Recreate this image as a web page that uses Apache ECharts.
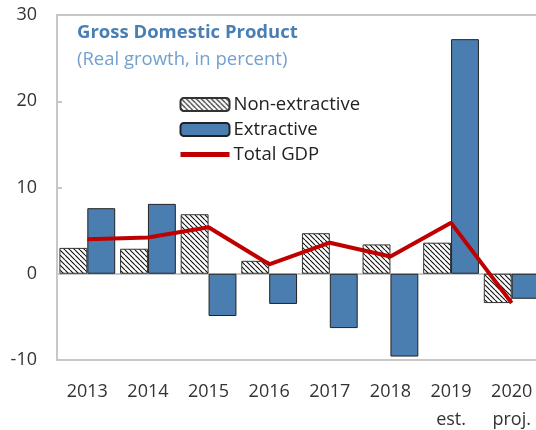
<!DOCTYPE html>
<html><head><meta charset="utf-8">
<script src="https://cdn.jsdelivr.net/npm/echarts@6/dist/echarts.min.js"></script>
<style>html,body{margin:0;padding:0;background:#fff}#c{width:536px;height:430px}</style>
</head><body><div id="c"></div>
<script>
const categories = ['2013','2014','2015','2016','2017','2018','2019\nest.','2020\nproj.'];
const nonExtractive = [3.0, 2.9, 6.9, 1.5, 4.7, 3.4, 3.6, -3.4];
const extractive = [7.6, 8.1, -4.9, -3.5, -6.3, -9.6, 27.2, -2.9];
const totalGDP = [4.0, 4.2, 5.4, 1.1, 3.6, 2.0, 5.9, -3.4];
const yTicks = [-10, 0, 10, 20, 30];

const pc = document.createElement('canvas');
pc.width = 5; pc.height = 5;
const g = pc.getContext('2d');
g.fillStyle = '#fff'; g.fillRect(0,0,5,5);
g.strokeStyle = '#111'; g.lineWidth = 1.1;
g.beginPath();
for (let o = -5; o <= 5; o += 5) { g.moveTo(o, 0); g.lineTo(o + 5, 5); }
g.stroke();

const font = '"Open Sans", "Noto Sans", sans-serif';
const chart = echarts.init(document.getElementById('c'));
chart.setOption({
  animation: false,
  textStyle: { fontFamily: font },
  title: {
    text: 'Gross Domestic Product',
    subtext: '(Real growth, in percent)',
    left: 72, top: 18, itemGap: 8,
    textStyle: { color: '#4a7fb5', fontSize: 18.5, fontWeight: 'bold', fontFamily: font },
    subtextStyle: { color: '#72a0cf', fontSize: 18.5, fontFamily: font }
  },
  legend: {
    orient: 'vertical', left: 178, top: 95, itemGap: 6, padding: 0,
    itemWidth: 49, itemHeight: 13,
    textStyle: { color: '#222', fontSize: 18.5, fontFamily: font, padding: [0,0,0,-1] },
    data: ['Non-extractive', 'Extractive',
      { name: 'Total GDP', itemStyle: { opacity: 0 }, lineStyle: { width: 5, color: '#c00000' } }]
  },
  grid: { left: 57, top: 15, bottom: 70, right: -6, show: true, borderColor: '#c8c8c8', borderWidth: 2,
    containLabel: false, outerBoundsMode: 'none' },
  xAxis: {
    type: 'category', data: categories,
    axisLine: { show: false }, axisTick: { show: false },
    axisLabel: { color: '#333', fontSize: 18, margin: 18, lineHeight: 28, interval: 0 }
  },
  yAxis: {
    type: 'value', min: yTicks[0], max: yTicks[yTicks.length - 1], interval: 10,
    axisLine: { show: true, lineStyle: { color: '#c8c8c8', width: 2 } },
    axisTick: { show: true, inside: true, length: 5, lineStyle: { color: '#c8c8c8', width: 2 } },
    axisLabel: { color: '#333', fontSize: 18, margin: 20, align: 'right', verticalAlign: 'middle',
      showMaxLabel: true, formatter: v => yTicks.includes(v) ? String(v) : '' },
    splitLine: { show: true, lineStyle: { color: ['transparent', '#c8c8c8', 'transparent', 'transparent', 'transparent'], width: 2 } }
  },
  series: [
    { name: 'Non-extractive', type: 'bar', data: nonExtractive, barWidth: '46%', barGap: '0%',
      itemStyle: { color: { image: pc, repeat: 'repeat' }, borderColor: '#333', borderWidth: 1 } },
    { name: 'Extractive', type: 'bar', data: extractive, barWidth: '46%', barGap: '0%',
      itemStyle: { color: '#4a7eb0', borderColor: '#222', borderWidth: 1 } },
    { name: 'Total GDP', type: 'line', data: totalGDP, symbol: 'none', z: 5,
      lineStyle: { color: '#c00000', width: 4 }, itemStyle: { color: '#c00000' } }
  ]
});
</script></body></html>
